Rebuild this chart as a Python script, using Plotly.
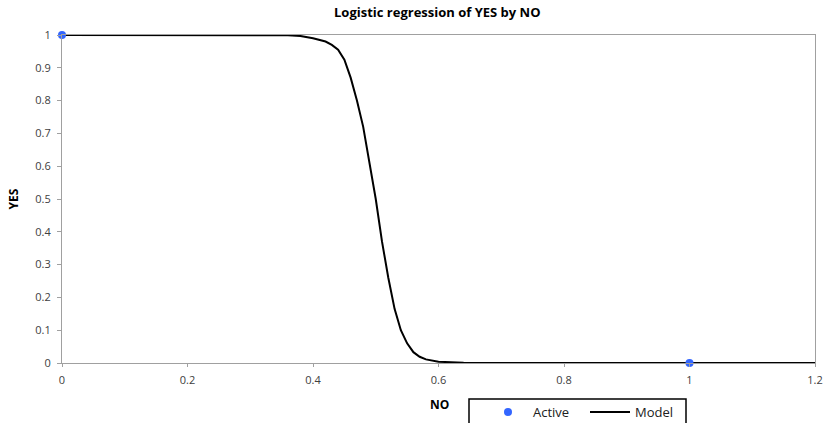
import plotly.graph_objects as go

# Data
active_x = [0, 1]
active_y = [1, 0]

model_x = [0.0, 0.34, 0.36, 0.38, 0.40, 0.42, 0.43, 0.44, 0.45, 0.46, 0.47, 0.48, 0.49,
           0.50, 0.51, 0.52, 0.53, 0.54, 0.55, 0.56, 0.57, 0.58, 0.60, 0.62, 0.64, 0.66, 1.2]
model_y = [1.0, 1.0, 0.999, 0.997, 0.99, 0.98, 0.97, 0.955, 0.925, 0.87, 0.80, 0.72, 0.61,
           0.50, 0.37, 0.26, 0.165, 0.10, 0.06, 0.033, 0.019, 0.011, 0.004, 0.0015, 0.0005, 0.0, 0.0]

x_ticks = [0, 0.2, 0.4, 0.6, 0.8, 1, 1.2]
x_labels = ["0", "0.2", "0.4", "0.6", "0.8", "1", "1.2"]
y_ticks = [0, 0.1, 0.2, 0.3, 0.4, 0.5, 0.6, 0.7, 0.8, 0.9, 1]
y_labels = ["0", "0.1", "0.2", "0.3", "0.4", "0.5", "0.6", "0.7", "0.8", "0.9", "1"]

W, H = 825, 423
L, R, T, B = 62, 10, 35, 60
PW, PH = W - L - R, H - T - B

fig = go.Figure()
fig.add_trace(go.Scatter(x=model_x, y=model_y, mode="lines", name="Model",
                         line=dict(color="black", width=2), legendrank=2, cliponaxis=False))
fig.add_trace(go.Scatter(x=active_x, y=active_y, mode="markers", name="Active",
                         marker=dict(color="#3366FF", size=8), legendrank=1, cliponaxis=False))

# legend frame (box partly below the window edge, as in the reference)
fig.add_shape(type="rect", xref="paper", yref="paper",
              x0=(469 - L) / PW, x1=(686 - L) / PW,
              y0=(H - B - 440) / PH, y1=(H - B - 399) / PH,
              line=dict(color="black", width=1.5), fillcolor="white", layer="below")

# x-axis title placed as in the reference
fig.add_annotation(text="<b>NO</b>", xref="paper", yref="paper",
                   x=(439 - L) / PW, y=(H - B - 405) / PH, xanchor="center", yanchor="middle",
                   showarrow=False, font=dict(size=12, color="black"))

fig.update_layout(
    width=W, height=H,
    margin=dict(l=L, r=R, t=T, b=B, autoexpand=False),
    paper_bgcolor="white", plot_bgcolor="white",
    font=dict(family="Open Sans", size=11, color="#404040"),
    title=dict(text="<b>Logistic regression of YES by NO</b>", x=0.53, xanchor="center",
               y=0.97, yanchor="middle", font=dict(size=13, color="black")),
    showlegend=True,
    legend=dict(orientation="h", xref="container", yref="container",
                x=483 / W, xanchor="left", y=1 - 397 / H, yanchor="top",
                borderwidth=0, bgcolor="rgba(0,0,0,0)",
                font=dict(size=13, color="#202020"), itemwidth=40,
                entrywidth=47),
)
fig.update_xaxes(range=[0, 1.2], tickvals=x_ticks, ticktext=x_labels, automargin=False,
                 showgrid=False, zeroline=False, showline=True, linecolor="#A0A0A0",
                 linewidth=1, mirror=True, ticks="outside", ticklen=3, tickcolor="#A0A0A0",
                 ticklabelstandoff=4)
fig.update_yaxes(range=[0, 1], tickvals=y_ticks, ticktext=y_labels, automargin=False,
                 showgrid=False, zeroline=False, showline=True, linecolor="#A0A0A0",
                 linewidth=1, mirror=True, ticks="outside", ticklen=4, tickcolor="#A0A0A0",
                 ticklabelstandoff=4,
                 title=dict(text="<b>YES</b>", font=dict(size=12, color="black"), standoff=14))

fig.write_html("out.html")
